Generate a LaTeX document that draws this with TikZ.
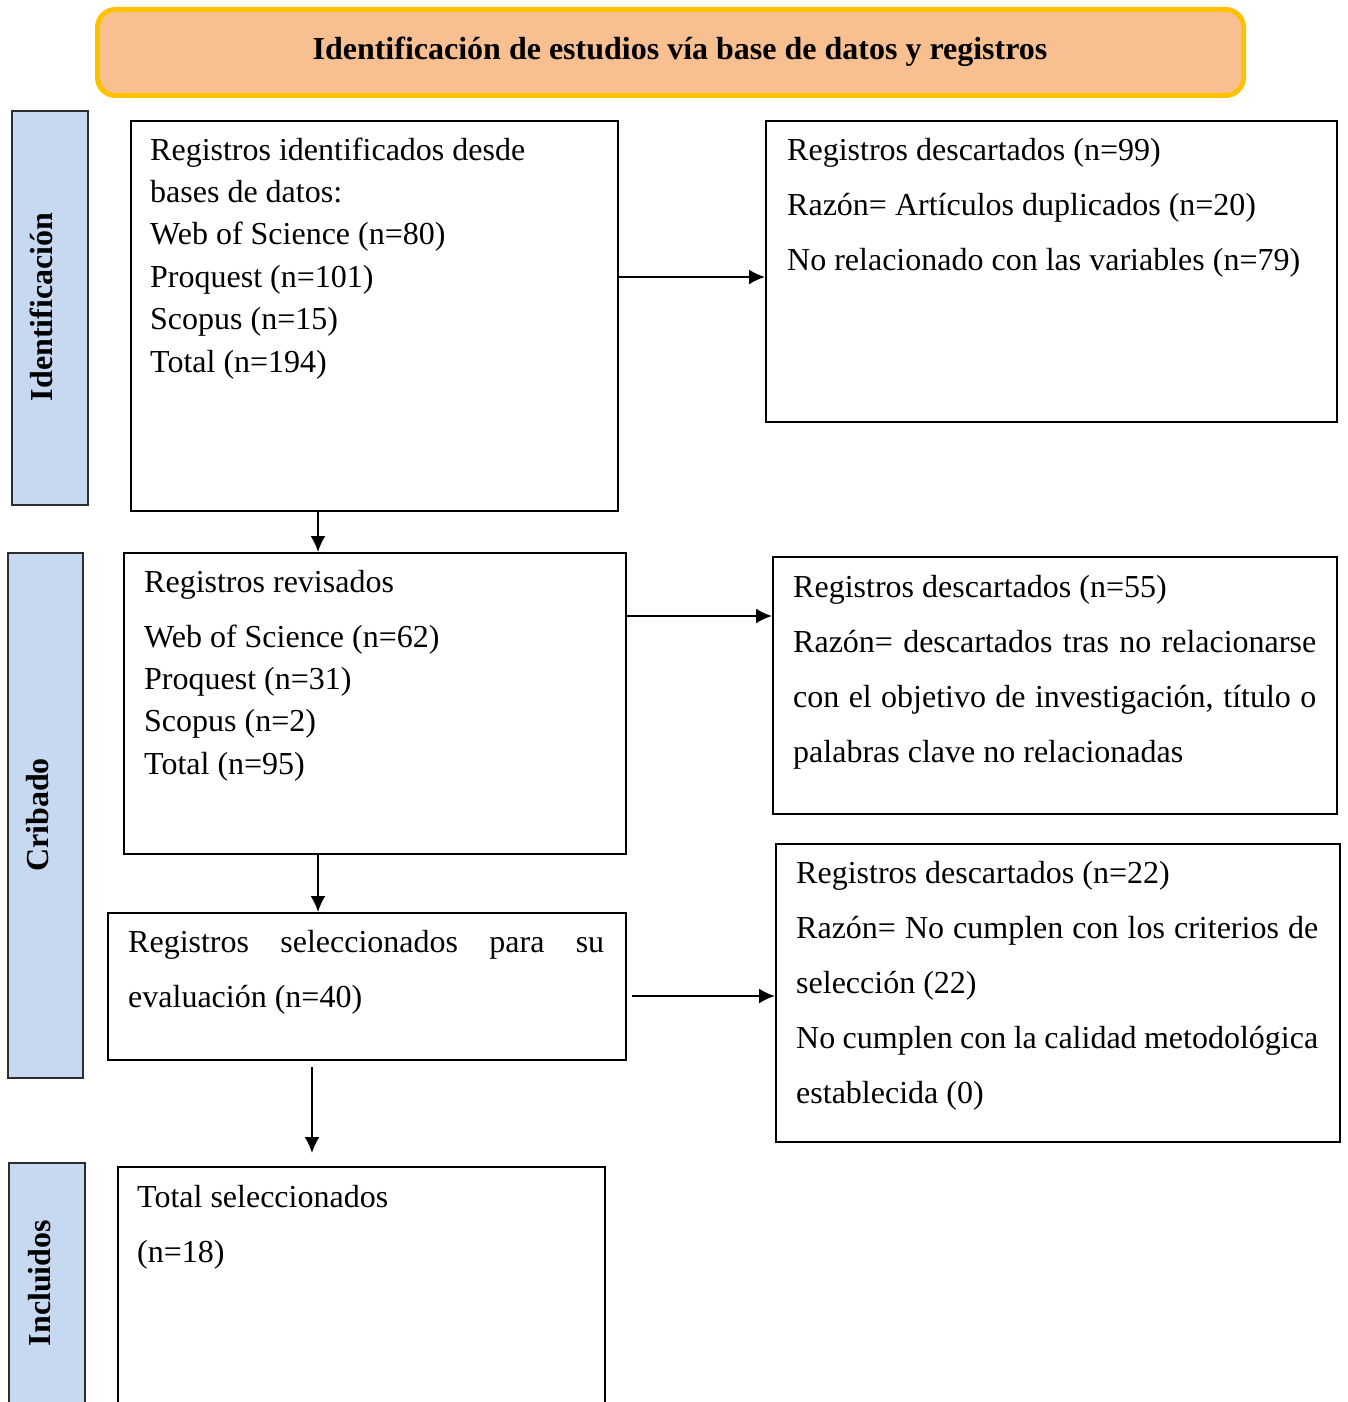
\documentclass[tikz,border=0pt]{standalone}
\usepackage{fontspec}
\setmainfont{Liberation Serif}
\usetikzlibrary{arrows.meta}
\definecolor{titlefill}{RGB}{248,192,144}
\definecolor{titleborder}{RGB}{255,192,0}
\definecolor{sidefill}{RGB}{198,217,241}
\definecolor{sideborder}{RGB}{45,45,45}
\begin{document}
\begin{tikzpicture}[x=1pt,y=1pt,
 titlebox/.style={draw=titleborder, fill=titlefill, line width=5pt, rounded corners=18pt, anchor=north west, inner sep=0pt},
 stepbox/.style={draw=black, line width=2pt, anchor=north west, inner sep=0pt},
 sidebox/.style={draw=sideborder, fill=sidefill, line width=2pt, anchor=north west, inner sep=0pt},
 sidelabel/.style={rotate=90, anchor=base, inner sep=0pt, font=\fontsize{32}{38}\selectfont\bfseries},
 txt/.style={anchor=base west, inner sep=0pt, font=\fontsize{32}{42.4}\selectfont},
 txtw/.style={anchor=base west, inner sep=0pt, font=\fontsize{32}{55}\selectfont},
 arr/.style={-{Latex[length=16pt,width=15pt]}, line width=2pt}]
\clip (0,0) rectangle (1347,-1402);
\fill[white] (0,0) rectangle (1347,-1402);

% title
\node[titlebox, minimum width=1146, minimum height=86] (title) at (95,-7) {};
\node[anchor=base, inner sep=0pt, font=\fontsize{32}{38}\selectfont\bfseries] (titletext) at (680,-60) {Identificación de estudios vía base de datos y registros};

% side boxes
\node[sidebox, minimum width=76, minimum height=394] (sid) at (11,-110) {};
\node[sidebox, minimum width=75, minimum height=525] (scr) at (7,-552) {};
\node[sidebox, minimum width=76, minimum height=280] (sinc) at (8,-1162) {};
\node[sidelabel] (lid) at (52,-307) {Identificación};
\node[sidelabel] (lcr) at (48,-815) {Cribado};
\node[sidelabel] (linc) at (50,-1283) {Incluidos};

% main boxes
\node[stepbox, minimum width=487, minimum height=390] (id) at (130,-120) {};
\node[stepbox, minimum width=571, minimum height=301] (ex1) at (765,-120) {};
\node[stepbox, minimum width=502, minimum height=301] (rev) at (123,-552) {};
\node[stepbox, minimum width=564, minimum height=257] (ex2) at (772,-556) {};
\node[stepbox, minimum width=564, minimum height=298] (ex3) at (775,-843) {};
\node[stepbox, minimum width=518, minimum height=147] (sel) at (107,-912) {};
\node[stepbox, minimum width=487, minimum height=280] (tot) at (117,-1166) {};

% texts
\node[txt] (idt) at (150,-160) {\parbox[t]{460pt}{Registros identificados desde\\bases de datos:\\Web of Science (n=80)\\Proquest (n=101)\\Scopus (n=15)\\Total (n=194)}};
\node[txtw] (ex1t) at (787,-160) {\parbox[t]{545pt}{Registros descartados (n=99)\\Razón= Artículos duplicados (n=20)\\No relacionado con las variables (n=79)}};
\node[txt] (revt) at (144,-592) {\parbox[t]{470pt}{Registros revisados\\[12.6pt]Web of Science (n=62)\\Proquest (n=31)\\Scopus (n=2)\\Total (n=95)}};
\node[txtw] (ex2t) at (793,-597) {\parbox[t]{530pt}{Registros descartados (n=55)\\\makebox[523pt][s]{Razón= descartados tras no relacionarse}\\\makebox[523pt][s]{con el objetivo de investigación, título o}\\palabras clave no relacionadas}};
\node[txtw] (ex3t) at (796,-883) {\parbox[t]{530pt}{Registros descartados (n=22)\\\makebox[522pt][s]{Razón= No cumplen con los criterios de}\\selección (22)\\\makebox[522pt][s]{No cumplen con la calidad metodológica}\\establecida (0)}};
\node[txtw] (selt) at (128,-952) {\parbox[t]{480pt}{\makebox[476pt][s]{Registros seleccionados para su}\\evaluación (n=40)}};
\node[txtw] (tott) at (137,-1207) {\parbox[t]{460pt}{Total seleccionados\\(n=18)}};

% connectors
\coordinate (h1) at (0,-277);
\coordinate (h2) at (0,-616);
\coordinate (h3) at (0,-996);
\coordinate (v1) at (318,0);
\coordinate (v2) at (312,0);
\draw[arr] (id.east |- h1) -- (ex1.west |- h1);
\draw[arr] (id.south -| v1) -- (rev.north -| v1);
\draw[arr] (rev.east |- h2) -- (ex2.west |- h2);
\draw[arr] (rev.south -| v1) -- (sel.north -| v1);
\draw[arr, shorten <=5pt] (sel.east |- h3) -- (ex3.west |- h3);
\draw[arr, shorten <=6pt, shorten >=13pt] (sel.south -| v2) -- (tot.north -| v2);
\end{tikzpicture}
\end{document}
